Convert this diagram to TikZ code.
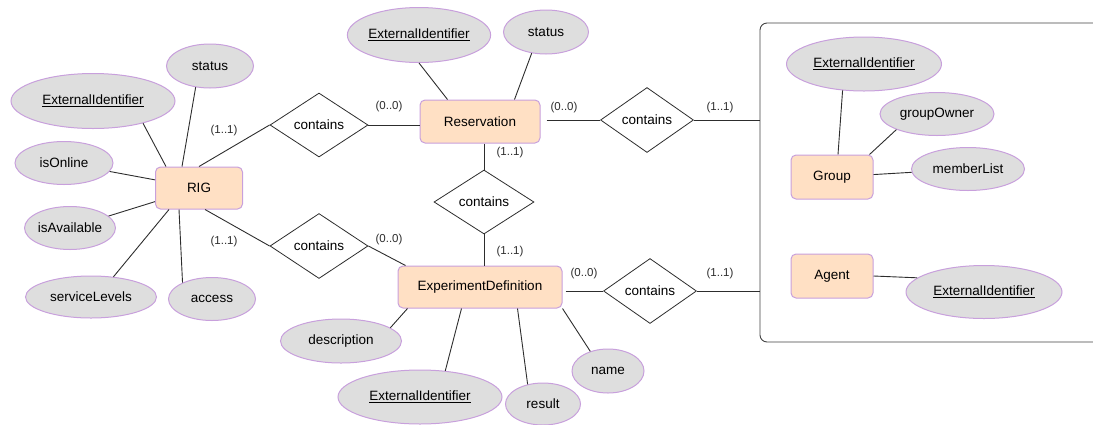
\documentclass[tikz,border=0pt]{standalone}
\usepackage{fontspec}
\setmainfont{Liberation Sans}
\usepackage{tikz}
\usetikzlibrary{shapes.geometric,positioning}
\definecolor{erpeach}{RGB}{255,224,196}
\definecolor{erviolet}{RGB}{200,160,220}
\definecolor{ergray}{RGB}{222,222,222}
\definecolor{erline}{RGB}{45,45,45}
\tikzstyle{entity} = [rectangle, rounded corners=5pt, minimum width=2.9cm, minimum height=43pt, text centered, draw=erviolet, fill=erpeach, line width=1pt, font=\fontsize{13.5}{15}\selectfont]
\tikzstyle{attribute} = [ellipse, inner sep=0pt, text centered, draw=erviolet, fill=ergray, line width=1pt, font=\fontsize{13.5}{15}\selectfont]
\tikzstyle{relation} = [diamond, aspect=1.5, inner sep=0pt, minimum width=98pt, minimum height=64pt, draw=erline, fill=white, line width=0.8pt, font=\fontsize{13.5}{15}\selectfont]
\tikzstyle{card} = [inner sep=0pt, font=\fontsize{11.5}{13}\selectfont, text=erline]
\tikzstyle{link} = [line width=0.9pt, color=erline]

\begin{document}
\begin{tikzpicture}[x=1pt, y=-1pt]
\useasboundingbox (0,0) rectangle (1093,424);
% Group / Agent frame (open to the right)
\node (frame) [rectangle, rounded corners=7pt, minimum width=370pt, minimum height=319pt, draw=erline!90, line width=0.9pt] at (945,182.5) {};

% Entities
\node (rig) [entity, minimum width=87pt, minimum height=42pt] at (199,188) {RIG};
\node (res) [entity, minimum width=120pt] at (480,121.5) {Reservation};
\node (ed) [entity, minimum width=164pt, minimum height=42pt] at (480,287) {ExperimentDefinition};
\node (group) [entity, minimum width=82pt, minimum height=44pt] at (832,177) {Group};
\node (agent) [entity, minimum width=82pt, minimum height=44pt] at (832,276) {Agent};

% Relationships
\node (c1) [relation] at (319,125) {contains};
\node (c2) [relation, minimum height=65pt] at (319,246) {contains};
\node (c3) [relation, minimum width=100pt] at (484,202) {contains};
\node (c4) [relation, minimum width=93pt, minimum height=65pt] at (647,120) {contains};
\node (c5) [relation, minimum width=93pt, minimum height=65pt] at (650,291) {contains};

% RIG attributes
\node (rext) [attribute, minimum width=164pt, minimum height=55pt] at (93,101) {\underline{ExternalIdentifier}};
\node (rstatus) [attribute, minimum width=87pt, minimum height=44pt] at (210,66) {status};
\node (online) [attribute, minimum width=98pt, minimum height=43pt] at (64,163) {isOnline};
\node (avail) [attribute, minimum width=87pt, minimum height=43pt] at (70,228) {isAvailable};
\node (service) [attribute, minimum width=131pt, minimum height=42pt] at (91,297) {serviceLevels};
\node (access) [attribute, minimum width=87pt, minimum height=43pt] at (212,299) {access};

% Reservation attributes
\node (resext) [attribute, minimum width=142pt, minimum height=55pt] at (419,35) {\underline{ExternalIdentifier}};
\node (resstatus) [attribute, minimum width=85pt, minimum height=44pt] at (546,32) {status};

% ExperimentDefinition attributes
\node (desc) [attribute, minimum width=121pt, minimum height=44pt] at (341,341) {description};
\node (edext) [attribute, minimum width=164pt, minimum height=54pt] at (420,397) {\underline{ExternalIdentifier}};
\node (result) [attribute, minimum width=75pt, minimum height=42pt] at (543,404) {result};
\node (name) [attribute, minimum width=72pt, minimum height=44pt] at (608,371) {name};

% Group / Agent attributes
\node (gext) [attribute, minimum width=155pt, minimum height=54pt] at (864,64) {\underline{ExternalIdentifier}};
\node (gowner) [attribute, minimum width=114pt, minimum height=43pt] at (937,114) {groupOwner};
\node (mlist) [attribute, minimum width=113pt, minimum height=43pt] at (968,169) {memberList};
\node (aext) [attribute, minimum width=156pt, minimum height=53pt] at (984,292) {\underline{ExternalIdentifier}};

% Cardinalities
\node (card1) [card] at (224,131) {(1..1)};
\node (card2) [card] at (224,242) {(1..1)};
\node (card3) [card] at (389,107) {(0..0)};
\node (card4) [card] at (389,240) {(0..0)};
\node (card5) [card] at (510,153) {(1..1)};
\node (card6) [card] at (510,252) {(1..1)};
\node (card7) [card] at (564,108) {(0..0)};
\node (card8) [card] at (720,108) {(1..1)};
\node (card9) [card] at (584,274) {(0..0)};
\node (card10) [card] at (720,274) {(1..1)};

% Attribute links
\draw[link] ([xshift=11pt]rig.north west) -- (rext.-24);
\draw[link] ([xshift=27pt]rig.north west) -- (rstatus.-124);
\draw[link] (rig) -- (online);
\draw[link] (rig) -- (avail);
\draw[link] ([xshift=14pt]rig.south west) -- (service.42);
\draw[link] ([xshift=24pt]rig.south west) -- (access.151);
\draw[link] ([xshift=28pt]res.north west) -- (resext.south);
\draw[link] ([xshift=-26pt]res.north east) -- (resstatus.-124);
\draw[link] ([xshift=10pt]ed.south west) -- (desc.15);
\draw[link] ([xshift=64pt]ed.south west) -- (edext.46);
\draw[link] ([xshift=-45pt]ed.south east) -- (result.128);
\draw[link] (ed.south east) -- (name.132);
\draw[link] ([xshift=6pt]group.north) -- (gext.-129);
\draw[link] ([xshift=-4pt]group.north east) -- (gowner.-159);
\draw[link] (group) -- (mlist);
\draw[link] (agent.east) -- (aext.168);

% Relationship links
\draw[link] (rig.north) -- (c1.west);
\draw[link] ([xshift=6pt]rig.south) -- (c2.west);
\draw[link] (c1.east) -- (c1.east -| res.west);
\draw[link] (c2.east) -- ([xshift=8pt]ed.north west);
\draw[link] (c3.north |- res.south) -- (c3.north);
\draw[link] (c3.south) -- (c3.south |- ed.north);
\draw[link, shorten <=6pt] (c4.west -| res.east) -- (c4.west);
\draw[link] (c4.east) -- (c4.east -| frame.west);
\draw[link, shorten <=3pt] (c5.west -| ed.east) -- (c5.west);
\draw[link] (c5.east) -- (c5.east -| frame.west);
\end{tikzpicture}
\end{document}
